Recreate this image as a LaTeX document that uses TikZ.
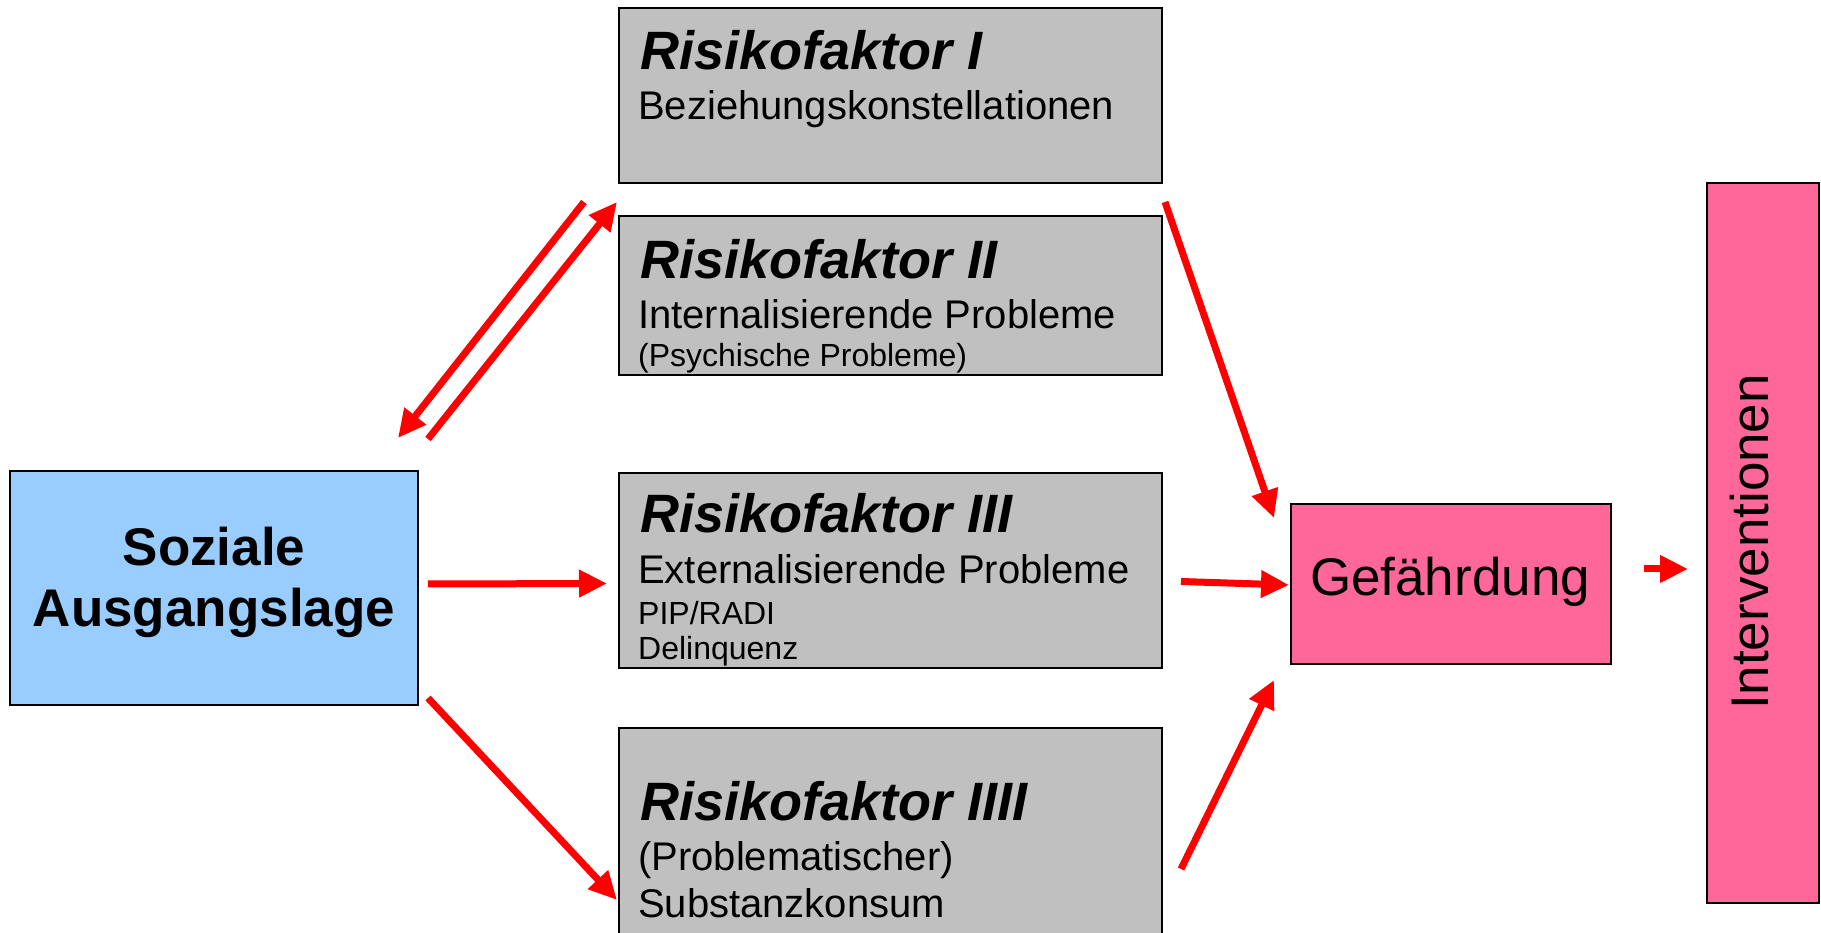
\documentclass[tikz,border=0pt]{standalone}
\usepackage{fontspec}
\setmainfont{Liberation Sans}
\usetikzlibrary{arrows.meta,calc}
\definecolor{boxgray}{HTML}{C0C0C0}
\definecolor{boxblue}{HTML}{99CCFF}
\definecolor{boxpink}{HTML}{FF6699}
\begin{document}
\begin{tikzpicture}[x=1pt,y=1pt,
  box/.style={draw=black,line width=2pt,rectangle,inner sep=0pt,anchor=north west},
  graybox/.style={box,fill=boxgray,minimum width=543pt},
  head/.style={anchor=base west,inner sep=0pt,font=\fontsize{54}{60}\selectfont\bfseries\itshape},
  sub/.style={anchor=base west,inner sep=0pt,font=\fontsize{40}{46}\selectfont},
  small/.style={anchor=base west,inner sep=0pt,font=\fontsize{32}{38}\selectfont},
  conn/.style={draw=red,line width=7pt,-{Triangle[length=28pt,width=26pt]}}
]
\useasboundingbox (0,0) rectangle (1821,932);
\clip (0,0) rectangle (1821,932);
% boxes
\node[graybox,minimum height=175pt] (r1) at (618,925) {};
\node[graybox,minimum height=159pt] (r2) at (618,717) {};
\node[graybox,minimum height=195pt] (r3) at (618,460) {};
\node[graybox,minimum height=215pt] (r4) at (618,205) {};
\node[box,fill=boxblue,minimum width=408pt,minimum height=234pt] (soz) at (9,462) {};
\node[box,fill=boxpink,minimum width=320pt,minimum height=160pt] (gef) at (1290,429) {};
\node[box,fill=boxpink,minimum width=112pt,minimum height=720pt] (int) at (1706,750) {};
% texts
\node[head] (t1a) at (640,862) {Risikofaktor I};
\node[sub]  (t1b) at (638,812) {Beziehungskonstellationen};
\node[head] (t2a) at (640,653) {Risikofaktor II};
\node[sub]  (t2b) at (638,603) {Internalisierende Probleme};
\node[small] (t2c) at (638,565) {(Psychische Probleme)};
\node[head] (t3a) at (640,399) {Risikofaktor III};
\node[sub]  (t3b) at (638,348) {Externalisierende Probleme};
\node[small] (t3c) at (638,307) {PIP/RADI};
\node[small] (t3d) at (638,272) {Delinquenz};
\node[head] (t4a) at (640,111) {Risikofaktor IIII};
\node[sub]  (t4b) at (638,61) {(Problematischer)};
\node[sub]  (t4c) at (638,15) {Substanzkonsum};
\node[anchor=base,inner sep=0pt,font=\fontsize{53}{60}\selectfont\bfseries] (s1) at (214,366) {Soziale};
\node[anchor=base,inner sep=0pt,font=\fontsize{53}{60}\selectfont\bfseries] (s2) at (214,305) {Ausgangslage};
\node[anchor=base,inner sep=0pt,font=\fontsize{53}{60}\selectfont] (g1) at (1450,336) {Gefährdung};
\node[rotate=90,inner sep=0pt,font=\fontsize{53}{60}\selectfont] (i1) at (1750,390) {Interventionen};
% connector end points
\coordinate (a1s) at ($(r1.south west)+(-34,-18)$);
\coordinate (a1e) at ($(soz.north east)+(-21,32)$);
\coordinate (a2s) at ($(soz.north east)+(9,31)$);
\coordinate (a2e) at ($(r1.south west)+(-1,-18)$);
\coordinate (a3s) at ($(soz.east)+(9,4)$);
\coordinate (a3e) at ($(r3.west)+(-11,-13)$);
\coordinate (a4s) at ($(soz.south east)+(9,8)$);
\coordinate (a4e) at ($(r4.north west)+(-1,-173)$);
\coordinate (a5s) at ($(r1.south east)+(2,-18)$);
\coordinate (a5e) at ($(gef.north west)+(-16,-15)$);
\coordinate (a6s) at ($(r3.east)+(18,-11)$);
\coordinate (a6e) at ($(gef.west)+(-1,-1)$);
\coordinate (a7s) at ($(r4.north east)+(18,-142)$);
\coordinate (a7e) at ($(gef.south west)+(-16,-15)$);
\coordinate (a8s) at ($(gef.east)+(32,15)$);
\coordinate (a8e) at ($(int.west)+(-18,-26)$);
% connectors
\draw[conn] (a1s) -- (a1e);
\draw[conn] (a2s) -- (a2e);
\draw[conn] (a3s) -- (a3e);
\draw[conn] (a4s) -- (a4e);
\draw[conn] (a5s) -- (a5e);
\draw[conn] (a6s) -- (a6e);
\draw[conn] (a7s) -- (a7e);
\draw[conn] (a8s) -- (a8e);
\end{tikzpicture}
\end{document}
